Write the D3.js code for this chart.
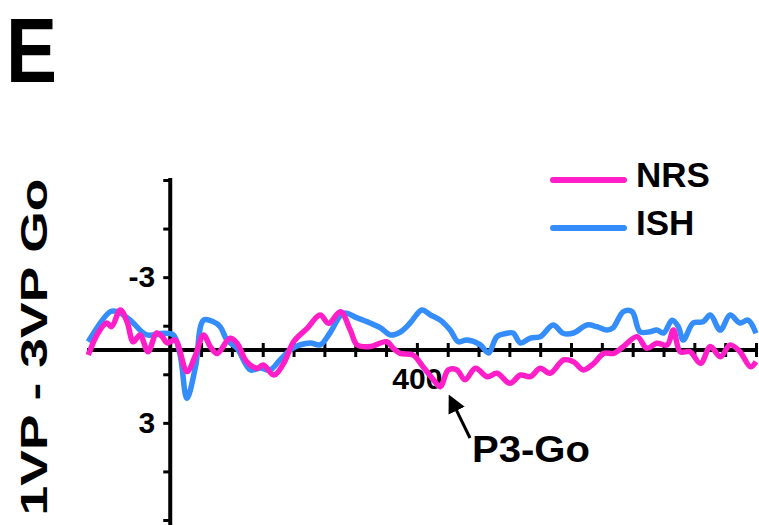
<!DOCTYPE html>
<html>
<head>
<meta charset="utf-8">
<script src="https://cdn.jsdelivr.net/npm/d3@7"></script>
<style>
  body { margin: 0; background: #fff; }
  text { font-family: Arial, "Liberation Sans", sans-serif; font-weight: bold; }
</style>
</head>
<body>
<div id="wrapper"></div>
<script>
// data (ms, microvolts; negative plotted up)
const ishTimes = [-133, -97, -86, -65, -38, -11, 5, 16, 27, 41, 54, 70, 81, 92, 108, 130, 146, 162, 178, 199,
  227, 243, 259, 281, 303, 324, 341, 357, 373, 389, 408, 422, 438, 454, 467, 481, 503, 516, 530, 546,
  556, 568, 584, 600, 621, 637, 654, 676, 692, 708, 718, 735, 749, 762, 778, 789, 800, 814, 824, 832,
  848, 864, 876, 892, 908, 924, 937, 950]
const ishValues = [-0.34, -1.58, -1.58, -1.23, -0.62, -0.69, -0.62, 0.2, 1.99, 0.69, -1.23, -1.16, -0.96, -0.41, -0.08, 0.82, 0.74, 0.82, 0.41, -0.08,
  -0.29, -0.21, -0.7, -1.52, -1.32, -1.11, -0.91, -0.62, -0.74, -1.11, -1.65, -1.44, -1.23, -0.82, -0.34, -0.41, -0.21, 0.12, -0.55, -0.69,
  -0.7, -0.29, -0.49, -0.55, -1.03, -0.69, -0.7, -1.03, -0.96, -0.82, -0.91, -1.58, -1.58, -0.75, -0.75, -0.82, -0.7, -1.23, -0.96, -0.41,
  -1.11, -1.16, -1.44, -0.82, -1.44, -1.11, -1.23, -0.69]

const nrsTimes = [-133, -117, -103, -95, -81, -70, -60, -49, -36, -22, -13, -5, 8, 27, 41, 54, 65, 76, 97, 108,
  124, 141, 151, 168, 184, 200, 222, 243, 257, 276, 292, 303, 324, 351, 362, 373, 394, 410, 427, 438,
  451, 465, 478, 495, 514, 530, 551, 568, 584, 600, 616, 638, 654, 670, 687, 703, 719, 735, 757, 773,
  789, 806, 816, 827, 843, 860, 876, 892, 908, 924, 941, 950]
const nrsValues = [0.21, -0.7, -1.11, -0.96, -1.65, -1.16, -0.34, -0.62, 0.07, -0.7, -0.55, -0.29, -0.41, 0.89, 0.21, -0.62, -0.14, 0.14, -0.48, -0.29,
  0.48, 0.75, 0.62, 1.03, 0.55, -0.34, -0.89, -1.44, -1.1, -1.58, -0.82, -0.21, -0.14, -0.34, -0.07, 0.14, 0.21, 0.69, 1.23, 1.51,
  0.82, 0.82, 1.23, 0.75, 1.1, 0.96, 1.37, 1.03, 1.1, 0.75, 0.96, 0.41, 0.48, 0.82, 0.55, 0.14, 0.14, -0.14, -0.55, -0.07,
  -0.28, -0.21, -0.82, 0.07, 0.07, 0.55, -0.14, 0.28, -0.21, 0.07, 0.69, 0.48]

const seriesNames = ["NRS", "ISH"]
const seriesColors = ["#ff1ec8", "#348dfb"]
const xTickValues = d3.range(50, 951, 50)
const xTickLabels = { 400: "400" }
const yTickValues = [-7, -5, -3, -1, 1, 3, 5, 7]
const yTickLabels = { "-3": "-3", "3": "3" }

const width = 759
const height = 525

const svg = d3.select("#wrapper").append("svg")
  .attr("width", width)
  .attr("height", height)

const x = d3.scaleLinear().domain([-135, 950]).range([87, 756])
const y = d3.scaleLinear().domain([-7, 7]).range([180, 520])

// panel letter
svg.append("text")
  .attr("x", 6).attr("y", 82)
  .attr("font-size", 90)
  .attr("textLength", 51).attr("lengthAdjust", "spacingAndGlyphs")
  .text("E")

// y label
svg.append("text")
  .attr("transform", "translate(47, 347) rotate(-90)")
  .attr("text-anchor", "middle")
  .attr("font-size", 37)
  .attr("textLength", 337).attr("lengthAdjust", "spacingAndGlyphs")
  .text("1VP - 3VP Go")

// x axis
const xAxis = svg.append("g")
  .attr("transform", `translate(0, ${y(0)})`)
  .call(d3.axisBottom(x).tickValues(xTickValues).tickSize(0).tickFormat(d => xTickLabels[d] || ""))
xAxis.select(".domain").remove()
xAxis.append("line")
  .attr("x1", x(-135)).attr("x2", x(950) + 2)
  .attr("stroke", "#000").attr("stroke-width", 4)
xAxis.selectAll(".tick line")
  .attr("y1", -7).attr("y2", 7)
  .attr("stroke", "#000").attr("stroke-width", 3)
xAxis.selectAll(".tick text")
  .attr("y", 39).attr("dy", 0)
  .attr("font-size", 30)
  .attr("fill", "#000")

// y axis
const yAxis = svg.append("g")
  .attr("transform", `translate(${x(0)}, 0)`)
  .call(d3.axisLeft(y).tickValues(yTickValues).tickSize(7).tickPadding(8).tickFormat(d => yTickLabels[d] || ""))
yAxis.select(".domain").remove()
yAxis.append("line")
  .attr("y1", y(-7) - 2).attr("y2", height)
  .attr("stroke", "#000").attr("stroke-width", 4)
yAxis.selectAll(".tick line").attr("stroke", "#000").attr("stroke-width", 3)
yAxis.selectAll(".tick text")
  .attr("font-size", 30)
  .attr("fill", "#000")

// waves
const line = d3.line()
  .x(d => x(d[0]))
  .y(d => y(d[1]))
  .curve(d3.curveCatmullRom)

const series = [
  { name: "ISH", color: seriesColors[1], pts: d3.zip(ishTimes, ishValues) },
  { name: "NRS", color: seriesColors[0], pts: d3.zip(nrsTimes, nrsValues) },
]
svg.selectAll(".wave")
  .data(series)
  .join("path")
  .attr("class", "wave")
  .attr("d", d => line(d.pts))
  .attr("fill", "none")
  .attr("stroke", d => d.color)
  .attr("stroke-width", 5.5)
  .attr("stroke-linejoin", "round")

// legend
const legend = svg.selectAll(".legend")
  .data(seriesNames)
  .join("g")
  .attr("class", "legend")
  .attr("transform", (d, i) => `translate(0, ${180 + i * 48})`)
legend.append("line")
  .attr("x1", 553).attr("x2", 624)
  .attr("stroke", (d, i) => seriesColors[i])
  .attr("stroke-width", 6)
  .attr("stroke-linecap", "round")
legend.append("text")
  .attr("x", 636).attr("y", 7)
  .attr("font-size", 35)
  .text(d => d)

// P3 annotation
const peak = [438, 1.51]
svg.append("defs").append("marker")
  .attr("id", "head")
  .attr("viewBox", "0 0 10 10")
  .attr("refX", 8).attr("refY", 5)
  .attr("markerWidth", 6).attr("markerHeight", 6)
  .attr("orient", "auto")
  .append("path").attr("d", "M0,0 L10,5 L0,10 z").attr("fill", "#000")
svg.append("line")
  .attr("x1", 470).attr("y1", 438)
  .attr("x2", x(peak[0]) + 10).attr("y2", y(peak[1]) + 11)
  .attr("stroke", "#000").attr("stroke-width", 3)
  .attr("marker-end", "url(#head)")
svg.append("text")
  .attr("x", 472).attr("y", 462)
  .attr("font-size", 36)
  .attr("textLength", 118).attr("lengthAdjust", "spacingAndGlyphs")
  .text("P3-Go")
</script>
</body>
</html>
